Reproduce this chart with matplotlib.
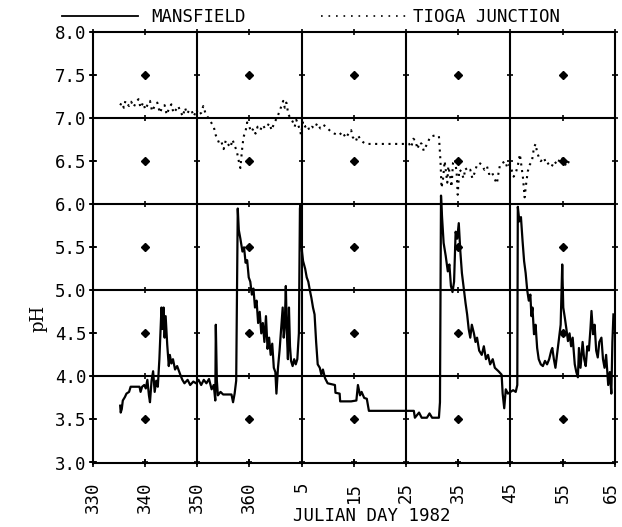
import matplotlib
matplotlib.use("Agg")
import matplotlib.pyplot as plt
import matplotlib.transforms as mtransforms
from matplotlib.lines import Line2D
import numpy as np

# ---------------- data ----------------
mansfield_day = [335.3,335.4,335.6,335.8,336.2,336.5,337.0,337.3,338.0,339.0,339.2,339.5,339.9,340.2,340.5,340.8,341.0,341.3,341.6,341.9,342.2,342.5,342.8,343.0,343.2,343.4,343.6,343.8,344.0,344.3,344.6,344.8,345.1,345.4,345.8,346.2,346.8,347.2,347.6,348.2,348.7,349.3,349.8,350.3,350.8,351.3,351.8,352.3,352.8,353.2,353.5,353.6,353.8,354.0,354.5,355.0,356.0,356.6,356.9,357.2,357.5,357.8,358.0,358.3,358.7,359.0,359.3,359.6,359.9,360.2,360.5,360.8,361.1,361.4,361.7,362.0,362.3,362.6,362.9,363.2,363.5,363.8,364.1,364.4,364.7,365.0,365.2,365.5,365.8,366.1,366.4,366.6,366.8,367.0,367.2,367.4,367.6,367.8,368.0,368.3,368.6,368.9,369.2,369.5,369.7,369.8,369.9,370.1,370.3,370.7,371.0,371.3,371.6,371.9,372.2,372.5,372.8,373.1,373.5,373.8,374.1,374.5,375.0,376.4,376.5,377.3,377.4,378.5,379.5,380.5,380.8,381.2,381.5,382.0,382.5,382.9,385.0,388.0,391.5,391.7,392.5,393.0,394.0,394.5,395.0,396.3,396.5,396.7,396.9,397.2,397.6,398.0,398.3,398.6,398.9,399.2,399.5,399.8,400.1,400.4,400.7,401.1,401.4,401.7,402.0,402.3,402.6,403.0,403.3,403.6,404.0,404.5,404.9,405.3,405.7,406.1,406.6,407.0,407.7,408.3,408.5,408.8,409.1,409.5,410.0,410.5,411.0,411.3,411.4,411.7,412.0,412.3,412.6,412.9,413.2,413.5,413.8,414.0,414.2,414.5,414.8,415.1,415.4,415.8,416.2,416.6,417.0,417.4,417.8,418.0,418.3,418.6,418.9,419.2,419.6,419.9,420.1,420.4,420.7,421.0,421.3,421.6,421.9,422.3,422.6,422.9,423.1,423.4,423.8,424.1,424.4,424.7,425.0,425.3,425.5,425.8,426.1,426.4,426.7,427.0,427.4,427.7,428.0,428.3,428.7,429.0,429.3,429.5,429.7]
mansfield_ph = [3.66,3.58,3.62,3.72,3.76,3.80,3.82,3.88,3.88,3.88,3.82,3.88,3.90,3.86,3.96,3.78,3.70,3.95,4.06,3.82,3.95,3.88,4.20,4.50,4.80,4.55,4.80,4.45,4.70,4.37,4.12,4.25,4.15,4.20,4.08,4.12,4.02,3.96,3.92,3.96,3.90,3.94,3.92,3.96,3.90,3.96,3.92,3.97,3.85,3.90,3.72,4.60,3.95,3.78,3.82,3.79,3.79,3.79,3.70,3.80,3.95,5.95,5.70,5.60,5.45,5.50,5.32,5.35,5.15,5.10,4.95,5.02,4.80,4.88,4.62,4.75,4.50,4.62,4.40,4.70,4.32,4.45,4.25,4.38,4.10,4.05,3.80,4.10,4.30,4.55,4.80,4.45,4.60,5.05,4.50,4.20,4.80,4.35,4.18,4.12,4.20,4.14,4.20,4.50,5.95,6.00,5.70,5.45,5.34,5.25,5.15,5.10,5.00,4.91,4.80,4.72,4.40,4.14,4.10,4.02,4.08,3.98,3.92,3.90,3.81,3.80,3.71,3.71,3.71,3.72,3.90,3.78,3.82,3.75,3.74,3.60,3.60,3.60,3.60,3.52,3.58,3.52,3.52,3.57,3.52,3.52,3.70,6.10,5.85,5.55,5.40,5.22,5.30,5.05,4.98,5.10,5.68,5.60,5.78,5.45,5.20,5.00,4.85,4.72,4.55,4.45,4.60,4.50,4.40,4.45,4.30,4.25,4.35,4.20,4.25,4.14,4.20,4.10,4.06,4.02,3.80,3.63,3.85,3.80,3.82,3.84,3.82,3.90,5.97,5.80,5.85,5.58,5.34,5.20,5.00,4.88,4.95,4.70,4.80,4.49,4.60,4.33,4.20,4.14,4.12,4.18,4.14,4.20,4.30,4.33,4.20,4.10,4.25,4.41,4.60,5.30,4.80,4.68,4.55,4.41,4.50,4.35,4.45,4.14,4.05,3.99,4.33,4.10,4.40,4.20,4.12,4.35,4.30,4.55,4.76,4.49,4.60,4.30,4.22,4.40,4.45,4.20,4.10,4.25,3.90,4.05,3.80,4.40,4.72]

tioga_day = [335.3,335.6,336.0,336.3,336.6,337.0,337.4,337.9,338.3,338.8,339.2,339.7,340.1,340.5,341.0,341.4,341.9,342.4,342.9,343.3,343.8,344.2,344.7,345.1,345.5,346.0,346.4,346.8,347.3,347.7,348.1,348.6,349.0,349.4,349.9,350.3,350.8,351.2,351.7,352.2,352.7,353.2,353.6,353.9,354.3,354.7,355.1,355.5,355.9,356.4,356.8,357.2,357.6,358.0,358.3,358.6,358.9,359.3,359.6,360.0,360.4,360.8,361.2,361.6,362.1,362.6,363.0,363.4,363.8,364.3,364.8,365.3,365.8,366.2,366.5,366.8,367.1,367.5,367.9,368.3,368.7,369.0,369.3,369.6,369.9,370.3,370.7,371.1,371.5,372.0,372.5,373.0,373.6,374.2,374.7,375.5,376.3,377.2,377.8,378.5,379.0,379.5,379.8,380.4,380.8,381.2,381.8,382.3,384.0,386.0,388.0,390.0,390.6,391.0,391.4,391.8,392.2,392.6,393.0,393.4,393.7,394.2,394.6,395.0,395.6,396.3,396.6,396.8,397.1,397.4,397.6,397.9,398.1,398.4,398.7,399.0,399.4,399.7,399.9,400.2,400.6,401.0,401.4,401.8,402.3,402.7,403.1,403.5,404.0,404.5,405.0,405.5,405.9,406.4,406.9,407.4,407.7,408.0,408.5,409.0,409.4,409.8,410.2,410.6,411.0,411.4,411.8,412.1,412.4,412.7,413.0,413.3,413.7,414.1,414.5,414.8,415.1,415.4,415.8,416.4,416.9,417.4,417.9,418.4,418.9,419.4,419.8,420.3,420.7,421.2,421.7]
tioga_ph = [7.15,7.18,7.12,7.20,7.17,7.14,7.19,7.13,7.18,7.22,7.12,7.18,7.10,7.15,7.20,7.08,7.14,7.18,7.06,7.12,7.15,7.04,7.12,7.16,7.06,7.10,7.14,7.08,7.02,7.12,7.05,7.10,7.08,7.02,7.10,7.04,7.06,7.14,7.04,7.00,6.95,6.90,6.80,6.76,6.70,6.72,6.64,6.74,6.70,6.66,6.75,6.68,6.62,6.50,6.42,6.62,6.78,6.85,6.95,6.90,6.84,6.88,6.82,6.90,6.86,6.92,6.88,6.90,6.94,6.86,6.95,7.00,7.08,7.15,7.20,7.12,7.18,7.04,7.00,6.96,6.90,6.98,6.93,6.88,6.81,6.96,6.90,6.92,6.86,6.90,6.88,6.94,6.88,6.92,6.90,6.85,6.82,6.80,6.84,6.77,6.82,6.86,6.78,6.73,6.80,6.76,6.72,6.70,6.70,6.70,6.70,6.70,6.70,6.66,6.76,6.74,6.64,6.72,6.70,6.62,6.66,6.72,6.78,6.79,6.80,6.79,6.50,6.19,6.30,6.50,6.40,6.25,6.44,6.35,6.20,6.48,6.52,6.35,6.11,6.40,6.38,6.30,6.42,6.38,6.40,6.30,6.36,6.44,6.48,6.46,6.40,6.44,6.35,6.38,6.30,6.24,6.36,6.46,6.48,6.50,6.42,6.46,6.40,6.32,6.36,6.45,6.58,6.44,6.30,6.08,6.24,6.38,6.46,6.50,6.66,6.70,6.60,6.55,6.50,6.54,6.46,6.48,6.44,6.50,6.46,6.52,6.55,6.48,6.44,6.50,6.48]

x_ticks = [330, 340, 350, 360, 370, 380, 390, 400, 410, 420, 430]
x_tick_labels = ["330", "340", "350", "360", "5", "15", "25", "35", "45", "55", "65"]
y_ticks = [3.0, 3.5, 4.0, 4.5, 5.0, 5.5, 6.0, 6.5, 7.0, 7.5, 8.0]
y_tick_labels = ["3.0", "3.5", "4.0", "4.5", "5.0", "5.5", "6.0", "6.5", "7.0", "7.5", "8.0"]

# ---------------- figure ----------------
W, H = 622, 527
fig = plt.figure(figsize=(W / 100, H / 100), dpi=100)
L, R, T, B = 92.5, 615.0, 32, 462.5
ax = fig.add_axes([L / W, 1 - B / H, (R - L) / W, (B - T) / H])
mono = "DejaVu Sans Mono"
fs = 12.5

ax.set_xlim(330, 430)
ax.set_ylim(3.0, 8.0)

# grid lines
for xv in [350, 370, 390, 410]:
    ax.axvline(xv, color="black", lw=1.5, zorder=1)
for yv in [4.0, 5.0, 6.0, 7.0]:
    ax.axhline(yv, color="black", lw=1.5, zorder=1)

# grid dots
line_x = {330, 350, 370, 390, 410, 430}
line_y = {3.0, 4.0, 5.0, 6.0, 7.0, 8.0}
dx, dy, sx, sy = [], [], [], []
for xv in x_ticks:
    for yv in y_ticks:
        if xv in line_x or yv in line_y:
            sx.append(xv); sy.append(yv)
        else:
            dx.append(xv); dy.append(yv)
ax.plot(dx, dy, ls="none", marker="D", ms=3.8, color="black", zorder=2)
ax.plot(sx, sy, ls="none", marker="+", ms=5, mew=1.2, color="black", zorder=2, clip_on=False)

# series
ax.plot(mansfield_day, mansfield_ph, color="black", lw=1.6, zorder=3)
ax.plot(tioga_day, tioga_ph, color="black", lw=1.5, ls=(0, (1, 2.2)), zorder=3)

for s in ax.spines.values():
    s.set_linewidth(1.5)

ax.set_xticks(x_ticks)
ax.set_xticklabels(x_tick_labels, rotation=90, fontfamily=mono, fontsize=fs, va="top", ha="center")
ax.set_yticks(y_ticks)
ax.set_yticklabels(y_tick_labels, fontfamily=mono, fontsize=fs)
ax.tick_params(axis="x", direction="inout", length=6, width=1.2, pad=11)
ax.tick_params(axis="y", direction="inout", length=6, width=1.2, pad=1.5)

# keep the last x tick label inside the canvas
last = ax.get_xticklabels()[-1]
last.set_transform(last.get_transform() +
                   mtransforms.ScaledTranslation(-4 / 100, 0, fig.dpi_scale_trans))

# labels
fig.text(372 / W, 1 - 516 / H, "JULIAN DAY 1982", fontfamily=mono, fontsize=fs,
         ha="center", va="center")
fig.text(38 / W, 1 - 318 / H, "pH", fontfamily="DejaVu Serif", fontsize=13,
         rotation=90, ha="center", va="center")

# legend
ly = 1 - 15.5 / H
fig.add_artist(Line2D([62 / W, 138 / W], [ly, ly], color="black", lw=1.3,
                      transform=fig.transFigure))
fig.text(151 / W, 1 - 17.5 / H, "MANSFIELD", fontfamily=mono, fontsize=fs, ha="left", va="center")
fig.add_artist(Line2D([321 / W, 409 / W], [ly, ly], color="black", lw=1.2,
                      ls=(0, (1, 3.5)), transform=fig.transFigure))
fig.text(413 / W, 1 - 17.5 / H, "TIOGA JUNCTION", fontfamily=mono, fontsize=fs, ha="left", va="center")

fig.savefig("out.png", dpi=100)
